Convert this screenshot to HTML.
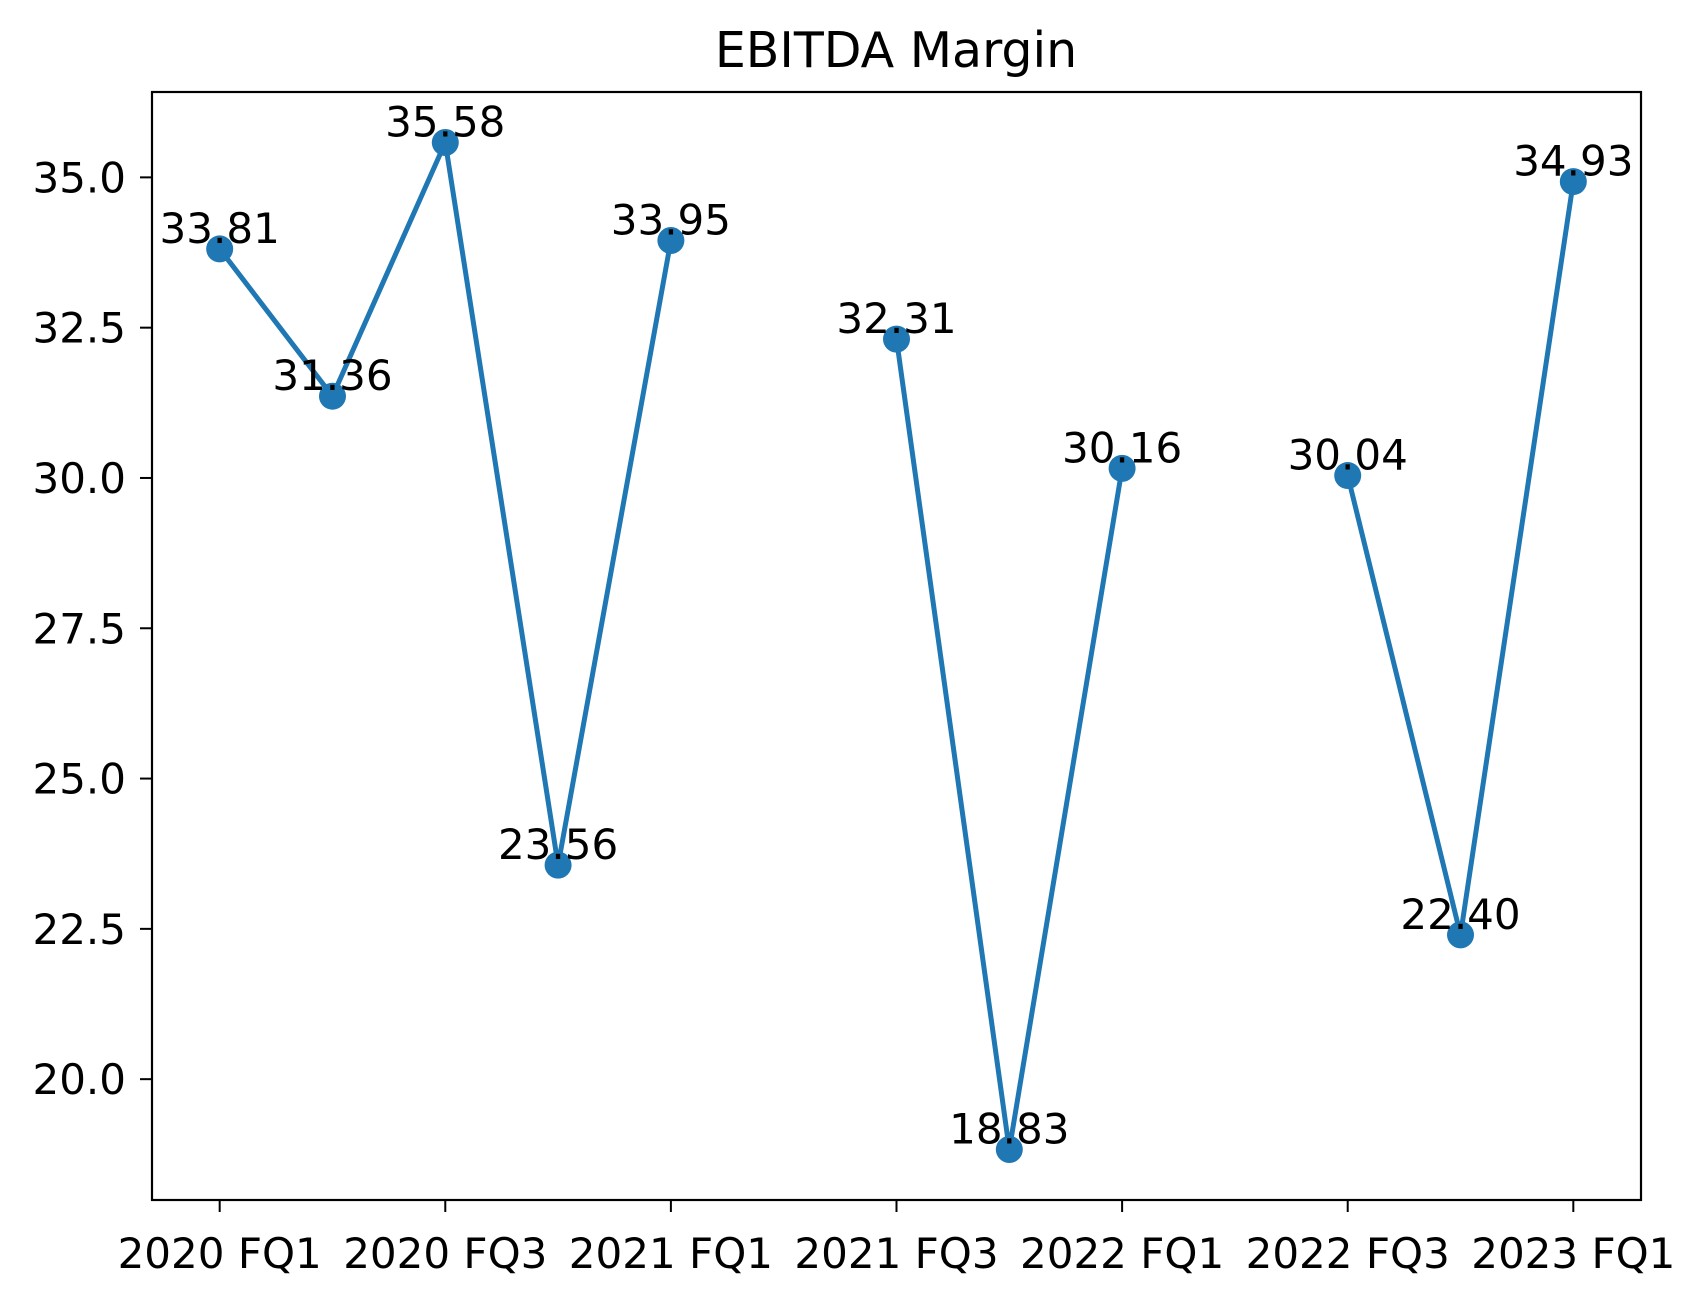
<!DOCTYPE html>
<html><head><meta charset="utf-8"><style>
body{margin:0;background:#fff}
text{font-family:"DejaVu Sans","Liberation Sans",sans-serif;fill:#000}
</style></head><body>
<svg id="chart" width="1703" height="1302" xmlns="http://www.w3.org/2000/svg">
<rect width="1703" height="1302" fill="#fff"/>
<text x="896" y="67" font-size="49" text-anchor="middle">EBITDA Margin</text>
<g id="grid"></g>
<g id="series"></g>
<rect x="152" y="92" width="1489" height="1108" fill="none" stroke="#000" stroke-width="2.2"/>
</svg>
<script>
const categories=["2020 FQ1","2020 FQ2","2020 FQ3","2020 FQ4","2021 FQ1","2021 FQ2","2021 FQ3","2021 FQ4","2022 FQ1","2022 FQ2","2022 FQ3","2022 FQ4","2023 FQ1"];
const values=[33.81,31.36,35.58,23.56,33.95,null,32.31,18.83,30.16,null,30.04,22.40,34.93];
const yTicks=[20.0,22.5,25.0,27.5,30.0,32.5,35.0];
const xTickIdx=[0,2,4,6,8,10,12];
const L=152,R=1641,T=92,B=1200;
const xmin=-0.6,xmax=12.6,ymin=17.99,ymax=36.42;
const xs=i=>L+(i-xmin)/(xmax-xmin)*(R-L);
const ys=v=>B-(v-ymin)/(ymax-ymin)*(B-T);
const NS="http://www.w3.org/2000/svg";
const g=document.getElementById('grid'),s=document.getElementById('series');
function mk(tag,attrs,parent){const e=document.createElementNS(NS,tag);for(const k in attrs)e.setAttribute(k,attrs[k]);parent.appendChild(e);return e;}
yTicks.forEach(v=>{
 const y=ys(v);
 const t=mk('line',{x1:L-12,x2:L,y1:y,y2:y,stroke:'#000','stroke-width':2},g);
 
 
 const tx=mk('text',{x:L-26,y:y+15,'font-size':42,'text-anchor':'end'},g);
 tx.textContent=v.toFixed(1);
 
 
});
xTickIdx.forEach(i=>{
 const x=xs(i);
 const t=mk('line',{x1:x,x2:x,y1:B,y2:B+12,stroke:'#000','stroke-width':2},g);
 
 
 const tx=mk('text',{x:x,y:B+68,'font-size':42,'text-anchor':'middle'},g);
 tx.textContent=categories[i];
 
 
});
let seg=[];
const segs=[];
values.forEach((v,i)=>{if(v===null){if(seg.length)segs.push(seg);seg=[];}else seg.push([xs(i),ys(v)]);});
if(seg.length)segs.push(seg);
segs.forEach(sg=>{
 const p=mk('polyline',{points:sg.map(q=>q.join(',')).join(' '),fill:'none',stroke:'#1f77b4','stroke-width':5,'stroke-linejoin':'round'},s);
 
 
});
values.forEach((v,i)=>{
 if(v===null)return;
 const c=mk('circle',{cx:xs(i),cy:ys(v),r:13.5,fill:'#1f77b4'},s);
 
 
 const t=mk('text',{x:xs(i),y:ys(v)-6,'font-size':42,'text-anchor':'middle'},s);
 t.textContent=v.toFixed(2);
 
 
});
</script>
</body></html>
